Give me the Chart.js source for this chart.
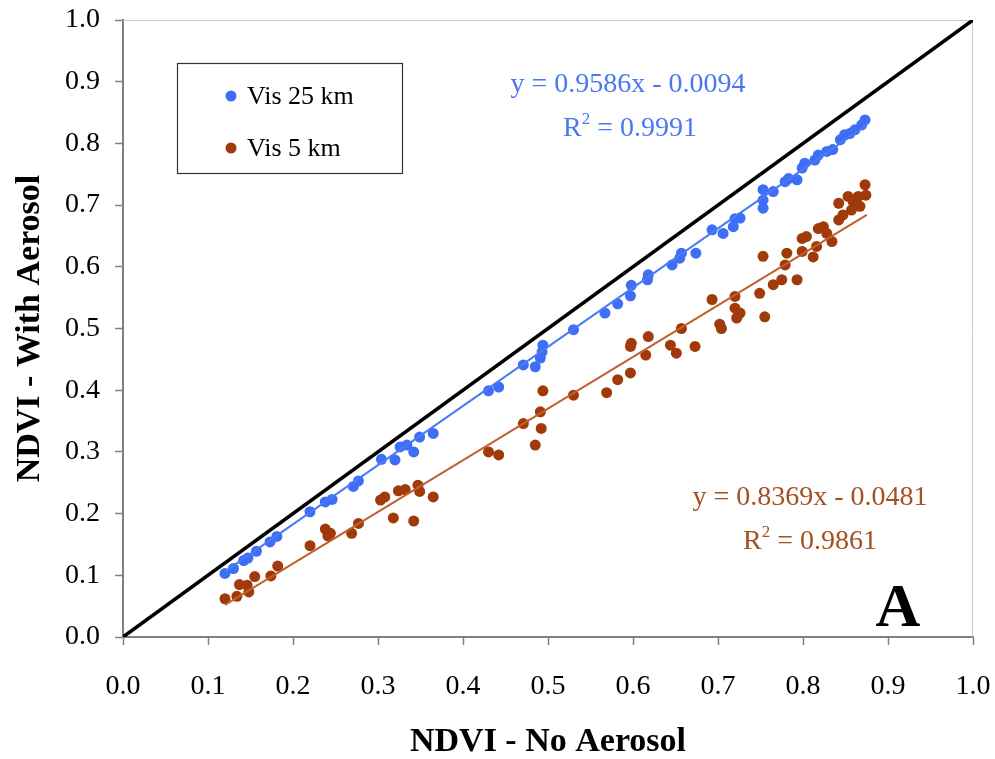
<!DOCTYPE html>
<html>
<head>
<meta charset="utf-8">
<script src="https://cdn.jsdelivr.net/npm/chart.js@4/dist/chart.umd.min.js"></script>
<style>
  body { margin: 0; background: #fff; }
  #wrap { width: 995px; height: 759px; }
</style>
</head>
<body>
<div id="wrap"><canvas id="scatter-chart" width="995" height="759"></canvas></div>
<script>
// NDVI without aerosol (x) vs with aerosol (y)
var vis25X = [0.120, 0.130, 0.142, 0.147, 0.157, 0.173, 0.181, 0.220, 0.238, 0.246,
  0.271, 0.277, 0.304, 0.320, 0.326, 0.334, 0.342, 0.349, 0.365, 0.430,
  0.442, 0.471, 0.485, 0.491, 0.493, 0.494, 0.530, 0.567, 0.582, 0.597,
  0.598, 0.617, 0.618, 0.646, 0.655, 0.657, 0.674, 0.693, 0.706, 0.718,
  0.720, 0.726, 0.753, 0.753, 0.753, 0.765, 0.779, 0.783, 0.793, 0.799,
  0.802, 0.814, 0.818, 0.828, 0.835, 0.844, 0.849, 0.855, 0.861, 0.869, 0.873];
var vis25Y = [0.103, 0.111, 0.124, 0.128, 0.139, 0.154, 0.163, 0.203, 0.219, 0.223,
  0.244, 0.253, 0.288, 0.287, 0.308, 0.311, 0.300, 0.324, 0.330, 0.399,
  0.405, 0.441, 0.438, 0.452, 0.462, 0.473, 0.498, 0.525, 0.540, 0.553,
  0.570, 0.579, 0.587, 0.603, 0.614, 0.622, 0.622, 0.660, 0.654, 0.665,
  0.678, 0.679, 0.695, 0.708, 0.725, 0.722, 0.738, 0.743, 0.741, 0.760,
  0.768, 0.773, 0.781, 0.787, 0.790, 0.806, 0.814, 0.816, 0.822, 0.830, 0.838];

var vis5X = [0.120, 0.134, 0.137, 0.146, 0.148, 0.155, 0.174, 0.182, 0.220, 0.238,
  0.241, 0.244, 0.269, 0.277, 0.303, 0.308, 0.318, 0.324, 0.332, 0.342,
  0.347, 0.349, 0.365, 0.430, 0.442, 0.471, 0.485, 0.492, 0.491, 0.494,
  0.530, 0.569, 0.582, 0.597, 0.597, 0.598, 0.615, 0.618, 0.644, 0.651,
  0.657, 0.673, 0.693, 0.702, 0.704, 0.720, 0.720, 0.722, 0.726, 0.749,
  0.753, 0.755, 0.765, 0.775, 0.779, 0.781, 0.793, 0.799, 0.799, 0.804,
  0.812, 0.816, 0.818, 0.824, 0.828, 0.834, 0.842, 0.842, 0.847, 0.853,
  0.857, 0.859, 0.867, 0.865, 0.873, 0.874];
var vis5Y = [0.062, 0.066, 0.085, 0.084, 0.073, 0.098, 0.099, 0.115, 0.148, 0.175,
  0.164, 0.168, 0.168, 0.184, 0.222, 0.227, 0.193, 0.237, 0.239, 0.188,
  0.246, 0.236, 0.227, 0.300, 0.295, 0.346, 0.311, 0.338, 0.365, 0.399,
  0.392, 0.396, 0.417, 0.428, 0.471, 0.476, 0.457, 0.487, 0.473, 0.460,
  0.500, 0.471, 0.547, 0.507, 0.500, 0.552, 0.533, 0.517, 0.525, 0.557,
  0.617, 0.519, 0.571, 0.579, 0.603, 0.622, 0.579, 0.625, 0.646, 0.649,
  0.616, 0.633, 0.662, 0.665, 0.654, 0.641, 0.676, 0.703, 0.684, 0.714,
  0.692, 0.706, 0.698, 0.714, 0.733, 0.716];

// fitted line ends, as drawn
var fit25X = [0.120, 0.875];
var fit25Y = [0.106, 0.830];
var fit5X = [0.120, 0.875];
var fit5Y = [0.052, 0.684];
var oneToOneX = [0, 1];
var oneToOneY = [0, 1];

var tickLabels = ['0.0', '0.1', '0.2', '0.3', '0.4', '0.5', '0.6', '0.7', '0.8', '0.9', '1.0'];
var seriesNames = ['Vis 25 km', 'Vis 5 km'];
var eq25 = ['y = 0.9586x - 0.0094', '0.9991'];
var eq5 = ['y = 0.8369x - 0.0481', '0.9861'];

var blue = '#3d6ef5';
var brown = '#a13a0b';
var serif = "'Liberation Serif', 'Times New Roman', serif";

function pts(xs, ys) {
  return xs.map(function(x, i) { return { x: x, y: ys[i] }; });
}

function drawR2(ctx, value, cx, cy, color) {
  ctx.fillStyle = color;
  ctx.textBaseline = 'middle';
  ctx.font = '28px ' + serif;
  var rW = ctx.measureText('R').width;
  var rest = ' = ' + value;
  var restW = ctx.measureText(rest).width;
  ctx.font = '17px ' + serif;
  var supW = ctx.measureText('2').width;
  var x0 = cx - (rW + supW + restW) / 2;
  ctx.textAlign = 'left';
  ctx.font = '28px ' + serif;
  ctx.fillText('R', x0, cy);
  ctx.font = '17px ' + serif;
  ctx.fillText('2', x0 + rW, cy - 9);
  ctx.font = '28px ' + serif;
  ctx.fillText(rest, x0 + rW + supW, cy);
}

var extras = {
  id: 'extras',
  beforeDatasetsDraw: function(chart) {
    var ctx = chart.ctx, a = chart.chartArea;
    ctx.save();
    ctx.strokeStyle = '#c8c8c8';
    ctx.lineWidth = 1;
    ctx.beginPath();
    ctx.moveTo(a.left, a.top + 0.5);
    ctx.lineTo(a.right - 0.5, a.top + 0.5);
    ctx.lineTo(a.right - 0.5, a.bottom);
    ctx.stroke();
    ctx.restore();
  },
  afterDraw: function(chart) {
    var ctx = chart.ctx;
    ctx.save();
    // legend box
    ctx.fillStyle = '#fff';
    ctx.fillRect(177, 63, 226, 111);
    ctx.strokeStyle = '#333';
    ctx.lineWidth = 1.2;
    ctx.strokeRect(177.5, 63.5, 225, 110);
    var rows = [[blue, 96], [brown, 148]];
    rows.forEach(function(r, i) {
      ctx.fillStyle = r[0];
      ctx.beginPath();
      ctx.arc(231, r[1], 5.5, 0, Math.PI * 2);
      ctx.fill();
      ctx.fillStyle = '#000';
      ctx.font = '26px ' + serif;
      ctx.textAlign = 'left';
      ctx.textBaseline = 'middle';
      ctx.fillText(seriesNames[i], 247, r[1] + 1);
    });
    // regression equations
    ctx.textAlign = 'center';
    ctx.textBaseline = 'middle';
    ctx.font = '28px ' + serif;
    ctx.fillStyle = '#4a78f2';
    ctx.fillText(eq25[0], 628, 85);
    drawR2(ctx, eq25[1], 630, 129, '#4a78f2');
    ctx.textAlign = 'center';
    ctx.font = '28px ' + serif;
    ctx.fillStyle = '#a4501f';
    ctx.fillText(eq5[0], 810, 498);
    drawR2(ctx, eq5[1], 810, 542, '#a4501f');
    // panel letter
    ctx.fillStyle = '#000';
    ctx.textAlign = 'center';
    ctx.textBaseline = 'alphabetic';
    ctx.font = 'bold 62px ' + serif;
    ctx.fillText('A', 898, 626);
    ctx.restore();
  }
};

var axisCommon = {
  type: 'linear',
  min: 0,
  max: 1,
  ticks: {
    stepSize: 0.1,
    color: '#000',
    font: { family: serif, size: 28 },
    callback: function(v, i) { return tickLabels[i]; }
  },
  grid: { drawOnChartArea: false, tickLength: 8, tickColor: '#808080', tickWidth: 1.5 },
  border: { color: '#808080', width: 2 }
};

new Chart(document.getElementById('scatter-chart'), {
  type: 'scatter',
  data: {
    datasets: [
      { label: '1:1', data: pts(oneToOneX, oneToOneY), showLine: true, borderColor: '#000',
        borderWidth: 3.5, pointRadius: 0 },
      { label: 'fit 25', data: pts(fit25X, fit25Y), showLine: true, borderColor: '#4a7af5',
        borderWidth: 2, pointRadius: 0 },
      { label: 'fit 5', data: pts(fit5X, fit5Y), showLine: true, borderColor: '#c0602c',
        borderWidth: 2, pointRadius: 0 },
      { label: seriesNames[0], data: pts(vis25X, vis25Y), backgroundColor: blue,
        borderWidth: 0, pointRadius: 5.5 },
      { label: seriesNames[1], data: pts(vis5X, vis5Y), backgroundColor: brown,
        borderWidth: 0, pointRadius: 5.5 }
    ]
  },
  options: {
    responsive: false,
    animation: false,
    layout: { padding: { top: 20, right: 22, left: 0, bottom: 0 } },
    plugins: { legend: { display: false }, tooltip: { enabled: false } },
    scales: {
      x: Object.assign({}, axisCommon, {
        ticks: Object.assign({}, axisCommon.ticks, { padding: 25, maxRotation: 0 }),
        title: { display: true, text: 'NDVI - No Aerosol', color: '#000',
          font: { family: serif, size: 34, weight: 'bold', lineHeight: 1 },
          padding: { top: 0, bottom: 0 } },
        afterFit: function(s) { s.height = 122; s.paddingLeft = 0; s.paddingRight = 0; }
      }),
      y: Object.assign({}, axisCommon, {
        ticks: Object.assign({}, axisCommon.ticks, { padding: 15 }),
        title: { display: true, text: 'NDVI - With Aerosol', color: '#000',
          font: { family: serif, size: 34, weight: 'bold', lineHeight: 1 },
          padding: { top: 13, bottom: 0 } },
        afterFit: function(s) { s.width = 123; s.paddingTop = 0; s.paddingBottom = 0; }
      })
    }
  },
  plugins: [extras]
});
</script>
</body>
</html>
